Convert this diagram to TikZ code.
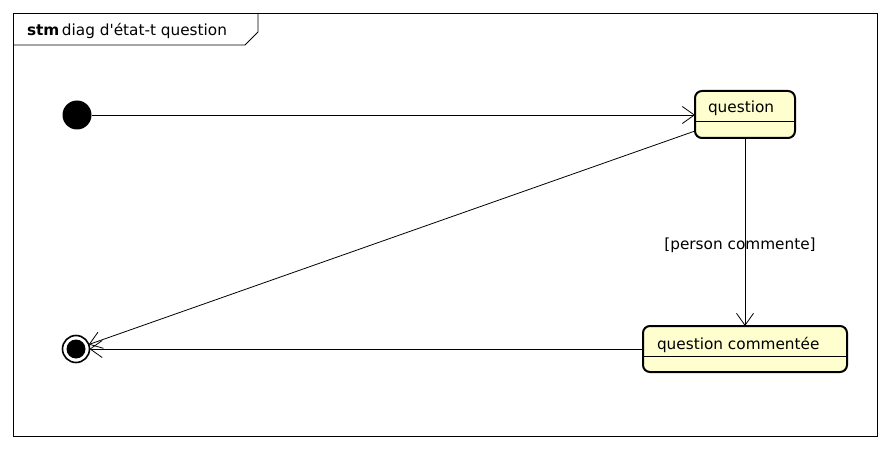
\documentclass[tikz,border=0pt]{standalone}
\usepackage{fontspec}
\setmainfont{DejaVu Sans}[Ligatures=TeXOff]
\usetikzlibrary{arrows.meta,calc}
\definecolor{statefill}{HTML}{FEFECE}
\begin{document}
\begin{tikzpicture}[x=1pt,y=-1pt,
  every node/.style={font=\fontsize{15.3}{17}\selectfont, inner sep=0pt, outer sep=0pt},
  statebox/.style={draw, line width=2pt, rounded corners=7pt, fill=statefill, rectangle},
  divider/.style={line width=0.8pt},
  trans/.style={line width=0.8pt, -{Straight Barb[length=12pt,width=17pt,line width=0.8pt]}},
]
\useasboundingbox (0,0) rectangle (890,449);
% frame and name tab
\draw[line width=0.8pt] (13,13) rectangle (877,436);
\draw[line width=0.8pt] (13,45) -- (245,45) -- (258,32) -- (258,13);
\node[anchor=base west] (title) at (27,36) {\textbf{stm}\,diag d'état-t question};
% initial and final pseudo-states
\node[circle, fill, minimum size=29pt] (init) at (77,115) {};
\node[circle, draw, line width=1.6pt, minimum size=27pt] (final) at (76,349) {};
\fill (final.center) circle (9.5);
% states
\node[statebox, minimum width=100pt, minimum height=47pt] (q) at (745,114.5) {};
\draw[divider] ($(q.west)+(0,6.5)$) -- ($(q.east)+(0,6.5)$);
\node[anchor=base west] (qname) at (708,113) {question};
\node[statebox, minimum width=204pt, minimum height=46pt] (qc) at (745,349) {};
\draw[divider] ($(qc.west)+(0,7)$) -- ($(qc.east)+(0,7)$);
\node[anchor=base west] (qcname) at (657,349) {question commentée};
% transitions
\draw[trans] (init.east) -- (init -| q.west);
\draw[trans] ($(q.west)+(0,16.5)$) -- (final);
\draw[trans] (q.south) -- (qc.north);
\node (guard) at (740,245) {[person commente]};
\draw[trans] (qc.west) -- (final.east);
\end{tikzpicture}
\end{document}
